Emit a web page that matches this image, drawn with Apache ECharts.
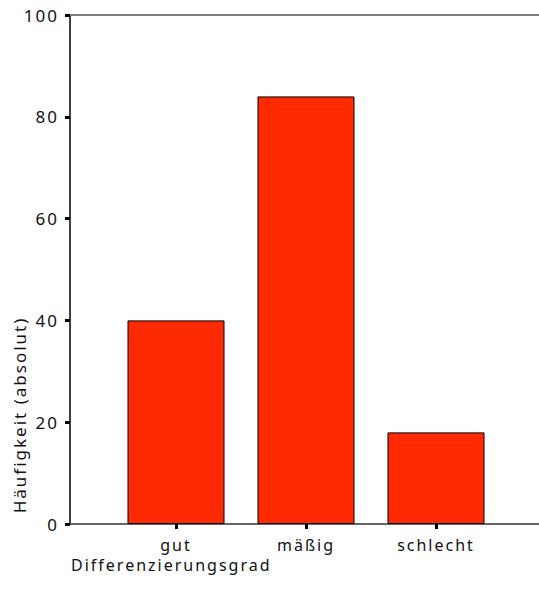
<!DOCTYPE html>
<html>
<head>
<meta charset="utf-8">
<script src="https://cdn.jsdelivr.net/npm/echarts@6/dist/echarts.min.js"></script>
<style>
html,body{margin:0;padding:0;background:#fff}
#c{width:539px;height:602px}
#c text{letter-spacing:2px}
</style>
</head>
<body>
<div id="c"></div>
<script>
const categories = ['gut', 'mäßig', 'schlecht'];
const counts = [40, 84, 18];
const yTicks = [0, 20, 40, 60, 80, 100];
const yTitle = 'Häufigkeit (absolut)';
const xTitle = 'Differenzierungsgrad';

const FONT = '"Noto Sans", "Open Sans", sans-serif';
const chart = echarts.init(document.getElementById('c'), null, {renderer: 'svg'});
chart.setOption({
  animation: false,
  backgroundColor: '#fff',
  title: {
    text: xTitle, left: 66, top: 552,
    textStyle: {fontFamily: FONT, fontWeight: 'normal', fontSize: 16, color: '#111'}
  },
  graphic: [{
    type: 'text', x: 19, y: 415, rotation: Math.PI / 2,
    style: {text: yTitle, fontFamily: FONT, fontSize: 17, fill: '#111', textAlign: 'center', textVerticalAlign: 'middle'}
  }],
  grid: [
    {left: 70, right: 0, top: 15, bottom: 78},
    {left: 111, right: 38, top: 15, bottom: 78}
  ],
  xAxis: [
    {gridIndex: 0, type: 'value', min: 0, max: 1, position: 'bottom',
     axisLine: {show: true, lineStyle: {color: '#333', width: 1.5}},
     axisTick: {show: false}, axisLabel: {show: false}, splitLine: {show: false}},
    {gridIndex: 0, type: 'value', min: 0, max: 1, position: 'top',
     axisLine: {show: true, lineStyle: {color: '#808080', width: 2}},
     axisTick: {show: false}, axisLabel: {show: false}, splitLine: {show: false}},
    {gridIndex: 1, type: 'category', data: categories,
     axisLine: {show: false},
     axisTick: {show: true, alignWithLabel: true, length: 5, lineStyle: {color: '#000', width: 3}},
     axisLabel: {margin: 13, fontFamily: FONT, fontSize: 16, color: '#111'}}
  ],
  yAxis: [
    {gridIndex: 0, type: 'value', min: yTicks[0], max: yTicks[yTicks.length - 1], interval: 20,
     axisLine: {show: true, lineStyle: {color: '#000', width: 1.5}},
     axisTick: {show: true, length: 5, lineStyle: {color: '#000', width: 3}},
     axisLabel: {margin: 11, fontFamily: FONT, fontSize: 17, color: '#111'},
     splitLine: {show: false}},
    {gridIndex: 1, type: 'value', min: 0, max: 100, show: false, splitLine: {show: false}}
  ],
  series: [{
    type: 'bar', xAxisIndex: 2, yAxisIndex: 1, data: counts, barWidth: 97,
    itemStyle: {color: '#ff2a00', borderColor: '#000', borderWidth: 1}
  }]
});
</script>
</body>
</html>
